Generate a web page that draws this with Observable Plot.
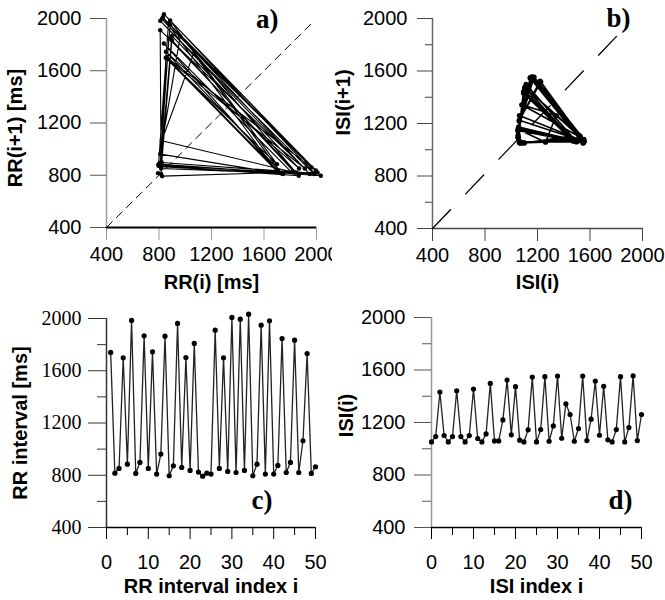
<!DOCTYPE html>
<html><head><meta charset="utf-8">
<script src="https://cdn.jsdelivr.net/npm/d3@7"></script>
<script src="https://cdn.jsdelivr.net/npm/@observablehq/plot@0.6"></script>
<style>
body{margin:0;background:#fff}
#wrap{position:relative;width:665px;height:600px;background:#fff;overflow:hidden}
.panel{position:absolute}
.panel svg{overflow:visible}
</style></head><body><div id="wrap"></div>
<script>
// RR intervals (ms), index i = 1..50 (panel c)
const rrValues = [1740, 816, 852, 1699, 885, 1985, 814, 898, 1867, 852,
  1745, 809, 962, 1865, 796, 872, 1962, 860, 1701, 837,
  1809, 824, 793, 816, 809, 1911, 852, 1699, 829, 2008,
  821, 1995, 837, 2033, 796, 885, 1949, 809, 1982, 809,
  875, 1847, 821, 898, 1834, 821, 1064, 1732, 814, 865];
const rrStartIndex = 1;
// ISI values (ms), index i = 0..50 (panel d)
const isiValues = [1052, 1093, 1432, 1101, 1052, 1093, 1442, 1093, 1052, 1101,
  1455, 1078, 1052, 1113, 1498, 1060, 1060, 1220, 1524, 1106,
  1473, 1065, 1052, 1144, 1546, 1052, 1146, 1549, 1057, 1174,
  1554, 1080, 1343, 1261, 1057, 1154, 1554, 1062, 1225, 1516,
  1103, 1476, 1068, 1052, 1146, 1549, 1052, 1161, 1556, 1062, 1261];
const isiStartIndex = 0;

const msTicks = [400, 800, 1200, 1600, 2000];
const msMinorTicks = [600, 1000, 1400, 1800];
const indexTicks = [0, 10, 20, 30, 40, 50];
const indexMinorTicks = [5, 15, 25, 35, 45];
const diagA = [[400, 400], [1975, 1975]];
const diagB = [[400, 400], [1875, 1940]];

const titles = {
  a: {x: "RR(i) [ms]", y: "RR(i+1) [ms]", tag: "a)"},
  b: {x: "ISI(i)", y: "ISI(i+1)", tag: "b)"},
  c: {x: "RR interval index i", y: "RR interval [ms]", tag: "c)"},
  d: {x: "ISI index i", y: "ISI(i)", tag: "d)"}
};

const series = (vals, start) => vals.map((v, k) => ({i: start + k, v}));
const pairs = vals => vals.slice(0, -1).map((v, k) => ({x: v, y: vals[k + 1]}));
const fmt = d3.format("d");

const SANS = "'Liberation Sans', Arial, sans-serif";
const SERIF = "'Liberation Serif', 'Times New Roman', serif";

function place(svg, left, top) {
  const div = document.createElement("div");
  div.className = "panel";
  div.style.left = left + "px";
  div.style.top = top + "px";
  div.appendChild(svg);
  document.getElementById("wrap").appendChild(div);
}

function titleMarks(t, o) {
  return [
    Plot.text([t.y], {frameAnchor: "left", textAnchor: "middle", lineAnchor: "middle", rotate: -90,
      dx: o.ydx, dy: o.ydy, fontWeight: "bold", fontSize: 20, fontFamily: SANS, fill: "black"}),
    Plot.text([t.x], {frameAnchor: "bottom", textAnchor: "middle", lineAnchor: "middle",
      dy: o.xdy, dx: o.xdx || 0, fontWeight: "bold", fontSize: 20, fontFamily: SANS, fill: "black"}),
    Plot.text([t.tag], {frameAnchor: o.tagAnchor, textAnchor: "end", lineAnchor: "middle",
      dx: o.tdx, dy: o.tdy, fontWeight: "bold", fontSize: 27, fontFamily: SERIF, fill: "black"})
  ];
}

const baseStyle = {fontFamily: SANS, fontSize: "20px", color: "black", background: "white", overflow: "visible"};

// Panel a
const rrPairs = pairs(rrValues);
place(Plot.plot({
  width: 332, height: 300,
  marginLeft: 106, marginRight: 16, marginTop: 18, marginBottom: 73,
  style: baseStyle,
  x: {domain: [400, 2000], axis: null},
  y: {domain: [400, 2000], axis: null},
  marks: [
    Plot.ruleX([400], {stroke: "#9a9a9a", strokeWidth: 1.5}),
    Plot.axisY(msTicks, {tickSize: 16, tickPadding: 9, tickFormat: fmt, stroke: "#555", fontSize: 20, fontFamily: SANS, label: null}),
    Plot.axisX(msTicks, {tickSize: 13, tickPadding: 6, tickFormat: fmt, stroke: "#999", fontSize: 20, fontFamily: SANS, label: null}),
    Plot.ruleY([400], {stroke: "black", strokeWidth: 2}),
    Plot.line(diagA, {x: d => d[0], y: d => d[1], stroke: "black", strokeWidth: 1, strokeDasharray: "8,6"}),
    Plot.line(rrPairs, {x: "x", y: "y", stroke: "black", strokeWidth: 1.1}),
    Plot.dot(rrPairs, {x: "x", y: "y", r: 2.2, fill: "black"}),
    ...titleMarks(titles.a, {ydx: -91, ydy: 5, xdy: 55, tdx: -38, tdy: 1, tagAnchor: "top-right"})
  ]
}), 0, 0);

// Panel b
const isiPairs = pairs(isiValues);
place(Plot.plot({
  width: 333, height: 300,
  marginLeft: 100, marginRight: 23, marginTop: 18, marginBottom: 72,
  style: baseStyle,
  x: {domain: [400, 2000], axis: null},
  y: {domain: [400, 2000], axis: null},
  marks: [
    Plot.ruleX([400], {stroke: "#666", strokeWidth: 1.5}),
    Plot.ruleY([400], {stroke: "#444", strokeWidth: 1.5}),
    Plot.axisY(msTicks, {tickSize: 15, tickPadding: 10, tickFormat: fmt, stroke: "#444", fontSize: 20, fontFamily: SANS, label: null}),
    Plot.axisY(msMinorTicks, {tickSize: 7, tickFormat: () => null, stroke: "#444", label: null}),
    Plot.axisX(msTicks, {tickSize: 13, tickPadding: 6, tickFormat: fmt, stroke: "#444", fontSize: 20, fontFamily: SANS, label: null}),
    Plot.line(diagB, {x: d => d[0], y: d => d[1], stroke: "black", strokeWidth: 1.3, strokeDasharray: "26,22"}),
    Plot.line(isiPairs, {x: "x", y: "y", stroke: "black", strokeWidth: 1.6}),
    Plot.dot(isiPairs, {x: "x", y: "y", r: 2.6, fill: "black"}),
    ...titleMarks(titles.b, {ydx: -89, ydy: -21, xdy: 54, tdx: -12, tdy: 0, tagAnchor: "top-right"})
  ]
}), 332, 0);

// Panel c
const rrSeries = series(rrValues, rrStartIndex);
place(Plot.plot({
  width: 332, height: 300,
  marginLeft: 106, marginRight: 17, marginTop: 18, marginBottom: 73,
  style: baseStyle,
  x: {domain: [0, 50], axis: null},
  y: {domain: [400, 2000], axis: null},
  marks: [
    Plot.ruleX([0], {stroke: "#333", strokeWidth: 1.5}),
    Plot.ruleY([400], {stroke: "black", strokeWidth: 1.5}),
    Plot.axisY(msTicks, {tickSize: 18, tickPadding: 7, tickFormat: fmt, stroke: "#333", fontSize: 20, fontFamily: SERIF, label: null}),
    Plot.axisY(msMinorTicks, {tickSize: 9, tickFormat: () => null, stroke: "#333", label: null}),
    Plot.axisX(indexTicks, {tickSize: 12, tickPadding: 15, tickFormat: fmt, stroke: "black", fontSize: 20, fontFamily: SANS, label: null}),
    Plot.axisX(indexMinorTicks, {tickSize: 8, tickFormat: () => null, stroke: "black", label: null}),
    Plot.line(rrSeries, {x: "i", y: "v", stroke: "#222", strokeWidth: 1.3}),
    Plot.dot(rrSeries, {x: "i", y: "v", r: 2.6, fill: "black"}),
    ...titleMarks(titles.c, {ydx: -86, ydy: 0, xdy: 59, tdx: -43, tdy: -27, tagAnchor: "bottom-right"})
  ]
}), 0, 300);

// Panel d
const isiSeries = series(isiValues, isiStartIndex);
place(Plot.plot({
  width: 333, height: 300,
  marginLeft: 99, marginRight: 24, marginTop: 17, marginBottom: 73,
  style: baseStyle,
  x: {domain: [0, 50], axis: null},
  y: {domain: [400, 2000], axis: null},
  marks: [
    Plot.ruleX([0], {stroke: "#999", strokeWidth: 1.5}),
    Plot.ruleY([400], {stroke: "black", strokeWidth: 1.5}),
    Plot.axisY(msTicks, {tickSize: 17, tickPadding: 9, tickFormat: fmt, stroke: "#555", fontSize: 20, fontFamily: SANS, label: null}),
    Plot.axisY(msMinorTicks, {tickSize: 9, tickFormat: () => null, stroke: "#555", label: null}),
    Plot.axisX(indexTicks, {tickSize: 12, tickPadding: 15, tickFormat: fmt, stroke: "black", fontSize: 20, fontFamily: SANS, label: null}),
    Plot.axisX(indexMinorTicks, {tickSize: 8, tickFormat: () => null, stroke: "black", label: null}),
    Plot.line(isiSeries, {x: "i", y: "v", stroke: "#222", strokeWidth: 1.3}),
    Plot.dot(isiSeries, {x: "i", y: "v", r: 2.6, fill: "black"}),
    ...titleMarks(titles.d, {ydx: -85, ydy: -7, xdy: 59, tdx: -9, tdy: -27, tagAnchor: "bottom-right"})
  ]
}), 332, 300);
</script></body></html>
